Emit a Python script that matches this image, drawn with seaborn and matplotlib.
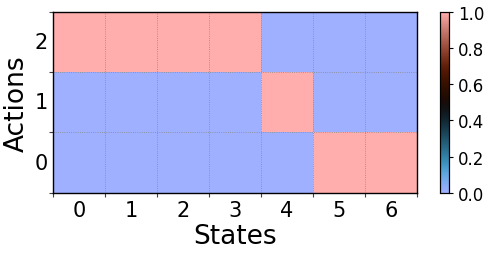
import numpy as np
import pandas as pd
import seaborn as sns
import matplotlib.pyplot as plt

states = [0, 1, 2, 3, 4, 5, 6]
actions = [2, 1, 0]  # top to bottom
row_a2 = [1, 1, 1, 1, 0, 0, 0]
row_a1 = [0, 0, 0, 0, 1, 0, 0]
row_a0 = [0, 0, 0, 0, 0, 1, 1]

df = pd.DataFrame([row_a2, row_a1, row_a0], index=actions, columns=states)

fig = plt.figure(figsize=(4.88, 2.55), dpi=100)
ax = fig.add_axes([0.109, 0.24, 0.745, 0.71])
cax = fig.add_axes([0.902, 0.24, 0.018, 0.71])

sns.heatmap(df, cmap='berlin', vmin=0, vmax=1, ax=ax, cbar_ax=cax, linewidths=0)

# frame + dotted grid on cell borders
for s in ax.spines.values():
    s.set_visible(True)
    s.set_color('black')
    s.set_linewidth(1.0)
    s.set_zorder(5)
ax.set_xticks(np.arange(len(states)) + 0.5)
ax.set_xticklabels([str(s) for s in states], rotation=0, fontsize=15)
ax.set_yticks(np.arange(len(actions)) + 0.5)
ax.set_yticklabels([str(a) for a in actions], rotation=0, fontsize=15)
ax.tick_params(which='major', length=0, pad=5)
ax.tick_params(axis='y', which='major', pad=4)
ax.set_xticks(np.arange(0, len(states) + 1), minor=True)
ax.set_yticks(np.arange(0, len(actions) + 1), minor=True)
ax.tick_params(which='minor', length=3, width=0.8, color='#444444')
ax.grid(which='minor', color='#888888', linestyle=':', linewidth=0.6)
ax.set_axisbelow(False)
ax.set_xlabel('States', fontsize=19, labelpad=2)
ax.set_ylabel('Actions', fontsize=19, labelpad=3)

cax.set_yticks([0, 0.2, 0.4, 0.6, 0.8, 1.0])
cax.set_yticklabels(['0.0', '0.2', '0.4', '0.6', '0.8', '1.0'])
cax.tick_params(labelsize=12, length=3)
for s in cax.spines.values():
    s.set_visible(True)
    s.set_linewidth(0.8)

fig.savefig('out.png', dpi=100)
